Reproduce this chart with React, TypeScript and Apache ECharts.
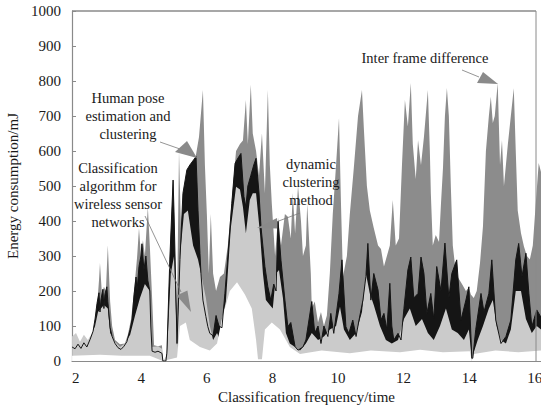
import React, { useEffect, useRef } from "react";
import * as echarts from "echarts";

// Tick labels
const X_TICKS = [2, 4, 6, 8, 10, 12, 14, 16];
const Y_MIN = 0;
const Y_MAX = 1000;
const Y_STEP = 100;

// Inter frame difference (dark gray, back layer)
const INTER_FRAME: [number, number][] = [
  [1.89, 46], [2.01, 60], [2.13, 45], [2.25, 62], [2.37, 50], [2.5, 70], [2.62, 117], [2.71, 230], [2.74, 280],
  [2.8, 190], [2.86, 212], [2.92, 200], [2.98, 331], [3.05, 170], [3.11, 100], [3.2, 60], [3.35, 48], [3.5, 50],
  [3.59, 75], [3.69, 120], [3.78, 200], [3.87, 294], [3.93, 380], [3.99, 300], [4.05, 345], [4.11, 300], [4.2, 440],
  [4.26, 330], [4.33, 180], [4.39, 45], [4.51, 42], [4.63, 45], [4.66, 0], [4.72, 0], [4.78, 25], [4.87, 300],
  [4.97, 520], [5.03, 300], [5.09, 150], [5.15, 600], [5.21, 380], [5.3, 480], [5.42, 550], [5.58, 560], [5.67, 590],
  [5.76, 640], [5.88, 774], [5.94, 560], [6.0, 420], [6.06, 250], [6.12, 420], [6.19, 250], [6.28, 200], [6.4, 240],
  [6.52, 250], [6.64, 330], [6.76, 460], [6.89, 600], [7.01, 620], [7.1, 630], [7.19, 746], [7.25, 620], [7.34, 789],
  [7.4, 650], [7.5, 600], [7.59, 530], [7.68, 651], [7.77, 480], [7.86, 774], [7.92, 560], [7.98, 450], [8.08, 300],
  [8.17, 410], [8.26, 330], [8.38, 420], [8.47, 412], [8.56, 350], [8.62, 480], [8.69, 365], [8.78, 500], [8.87, 400],
  [8.93, 300], [9.02, 330], [9.06, 450], [9.17, 250], [9.2, 150], [9.29, 170], [9.39, 110], [9.48, 140], [9.57, 100],
  [9.66, 130], [9.75, 250], [9.84, 420], [9.94, 560], [10.03, 694], [10.09, 450], [10.15, 240], [10.27, 300],
  [10.36, 420], [10.48, 550], [10.61, 700], [10.73, 774], [10.79, 660], [10.88, 500], [10.97, 430], [11.09, 380],
  [11.22, 330], [11.31, 320], [11.4, 270], [11.49, 300], [11.58, 330], [11.67, 460], [11.76, 330], [11.86, 350],
  [11.95, 560], [12.04, 746], [12.13, 670], [12.22, 794], [12.28, 620], [12.37, 520], [12.44, 631], [12.53, 560],
  [12.62, 640], [12.74, 774], [12.8, 600], [12.83, 480], [12.89, 330], [12.98, 360], [13.08, 340], [13.14, 450],
  [13.2, 550], [13.26, 700], [13.32, 780], [13.38, 700], [13.44, 500], [13.5, 330], [13.56, 280], [13.65, 240],
  [13.78, 220], [13.9, 200], [13.99, 210], [14.05, 190], [14.14, 180], [14.23, 200], [14.33, 280], [14.42, 384],
  [14.51, 600], [14.6, 700], [14.66, 755], [14.72, 680], [14.78, 700], [14.87, 794], [14.94, 560], [15.0, 631],
  [15.06, 500], [15.12, 560], [15.18, 620], [15.27, 700], [15.36, 779], [15.42, 600], [15.48, 430], [15.58, 365],
  [15.67, 327], [15.76, 300], [15.85, 290], [15.94, 330], [16.03, 450], [16.12, 566], [16.19, 540],
];

// Human pose estimation and clustering (black)
const HUMAN_POSE: [number, number][] = [
  [1.89, 40], [1.98, 35], [2.07, 48], [2.16, 36], [2.25, 52], [2.34, 40], [2.44, 62], [2.53, 85], [2.59, 120],
  [2.65, 165], [2.71, 195], [2.74, 140], [2.77, 175], [2.83, 205], [2.86, 150], [2.89, 190], [2.95, 212], [2.98, 170],
  [3.05, 95], [3.11, 70], [3.2, 50], [3.29, 38], [3.38, 33], [3.47, 42], [3.56, 55], [3.66, 90], [3.72, 120],
  [3.78, 190], [3.84, 240], [3.87, 200], [3.93, 270], [3.99, 300], [4.02, 335], [4.08, 260], [4.14, 300], [4.2, 230],
  [4.26, 200], [4.29, 100], [4.33, 28], [4.42, 25], [4.51, 28], [4.63, 22], [4.66, 0], [4.75, 0], [4.78, 22],
  [4.87, 289], [4.97, 517], [5.0, 420], [5.09, 50], [5.18, 290], [5.27, 479], [5.39, 546], [5.48, 560], [5.67, 584],
  [5.73, 431], [5.79, 307], [5.82, 250], [5.88, 174], [5.97, 127], [6.03, 98], [6.09, 79], [6.19, 72], [6.28, 130],
  [6.37, 100], [6.46, 95], [6.55, 193], [6.64, 300], [6.76, 450], [6.86, 565], [6.95, 580], [7.04, 593], [7.13, 470],
  [7.19, 440], [7.25, 500], [7.34, 530], [7.43, 560], [7.5, 579], [7.59, 480], [7.65, 384], [7.77, 270], [7.86, 212],
  [7.95, 174], [8.04, 220], [8.11, 200], [8.17, 400], [8.26, 288], [8.38, 174], [8.47, 98], [8.56, 110], [8.69, 41],
  [8.78, 31], [8.93, 40], [9.02, 60], [9.2, 170], [9.29, 80], [9.39, 100], [9.48, 50], [9.57, 100], [9.69, 70],
  [9.78, 136], [9.87, 79], [10.03, 193], [10.12, 289], [10.24, 98], [10.33, 79], [10.45, 117], [10.55, 70],
  [10.64, 117], [10.76, 174], [10.85, 241], [10.91, 336], [11.0, 174], [11.09, 250], [11.22, 203], [11.31, 117],
  [11.4, 136], [11.49, 90], [11.58, 222], [11.64, 100], [11.7, 60], [11.83, 79], [11.92, 60], [12.01, 150],
  [12.13, 260], [12.22, 297], [12.31, 180], [12.44, 193], [12.53, 297], [12.62, 250], [12.71, 136], [12.83, 193],
  [12.92, 120], [13.01, 270], [13.14, 200], [13.26, 337], [13.38, 180], [13.47, 250], [13.62, 289], [13.75, 117],
  [13.9, 174], [13.99, 212], [14.05, 79], [14.08, 8], [14.11, 8], [14.2, 90], [14.36, 193], [14.45, 140], [14.6, 193],
  [14.69, 289], [14.81, 117], [14.97, 50], [15.12, 70], [15.27, 117], [15.42, 289], [15.51, 336], [15.61, 241],
  [15.73, 308], [15.82, 193], [15.91, 98], [16.06, 146], [16.19, 125],
];

// Classification algorithm for wireless sensor networks (light gray)
const CLASSIFICATION_WSN: [number, number][] = [
  [1.89, 70], [2.01, 80], [2.13, 55], [2.25, 75], [2.37, 60], [2.5, 80], [2.59, 100], [2.68, 140], [2.77, 150],
  [2.86, 160], [2.98, 150], [3.05, 80], [3.2, 55], [3.35, 40], [3.5, 50], [3.66, 75], [3.81, 130], [3.96, 180],
  [4.11, 220], [4.26, 200], [4.33, 40], [4.51, 42], [4.63, 35], [4.66, 0], [4.78, 15], [4.9, 250], [5.0, 300],
  [5.09, 40], [5.18, 300], [5.3, 420], [5.42, 430], [5.58, 330], [5.73, 290], [5.82, 250], [5.97, 180], [6.09, 100],
  [6.19, 60], [6.31, 80], [6.4, 60], [6.46, 120], [6.58, 170], [6.73, 380], [6.89, 498], [7.01, 490], [7.1, 440],
  [7.19, 365], [7.31, 460], [7.4, 479], [7.5, 479], [7.62, 365], [7.71, 250], [7.8, 174], [7.92, 160], [8.01, 150],
  [8.11, 250], [8.2, 260], [8.32, 180], [8.41, 80], [8.53, 50], [8.69, 40], [8.84, 30], [9.02, 50], [9.2, 80],
  [9.39, 60], [9.57, 70], [9.75, 90], [9.94, 100], [10.06, 155], [10.18, 90], [10.36, 60], [10.55, 80], [10.73, 140],
  [10.85, 250], [10.97, 193], [11.09, 160], [11.28, 100], [11.46, 60], [11.64, 50], [11.83, 60], [12.01, 120],
  [12.19, 150], [12.37, 100], [12.56, 120], [12.74, 80], [12.92, 60], [13.11, 100], [13.29, 150], [13.47, 90],
  [13.65, 80], [13.84, 60], [13.99, 90], [14.08, 5], [14.14, 25], [14.26, 60], [14.42, 100], [14.6, 150],
  [14.72, 174], [14.84, 100], [14.97, 60], [15.12, 50], [15.27, 90], [15.42, 200], [15.58, 200], [15.73, 120],
  [15.91, 80], [16.06, 100], [16.19, 90],
];

// Dynamic clustering method (white, front layer)
const DYNAMIC_CLUSTERING: [number, number][] = [
  [1.89, 15], [2.74, 18], [3.4, 15], [4.26, 15], [4.66, 0], [5.09, 10], [5.18, 100], [5.36, 110], [5.48, 60],
  [5.79, 40], [6.09, 30], [6.31, 50], [6.46, 120], [6.7, 200], [6.92, 225], [7.16, 190], [7.37, 150], [7.5, 60],
  [7.56, 5], [7.68, 5], [7.77, 90], [7.98, 110], [8.23, 90], [8.53, 40], [8.84, 20], [9.5, 30], [10.36, 22],
  [11.0, 30], [11.89, 25], [12.5, 32], [13.2, 25], [14.02, 28], [14.08, 0], [14.14, 20], [14.8, 30], [15.5, 25],
  [16.19, 30],
];

const FONT = "Liberation Serif";

function arrow(sx: number, sy: number, ex: number, ey: number, tri: number[][]) {
  return [
    { type: "line", shape: { x1: sx, y1: sy, x2: ex, y2: ey }, style: { stroke: "#7a7a7a", lineWidth: 0.8 }, z: 100 },
    { type: "polygon", shape: { points: tri }, style: { fill: "#8a8a8a" }, z: 100 },
  ];
}

function label(text: string, x: number, y: number) {
  return {
    type: "text",
    x,
    y,
    z: 100,
    style: {
      text,
      align: "center",
      verticalAlign: "middle",
      fontFamily: FONT,
      fontSize: 14.5,
      lineHeight: 18,
      fill: "#1a1a1a",
    },
  };
}

export default function App() {
  const ref = useRef<HTMLDivElement>(null);
  useEffect(() => {
    if (!ref.current) return;
    const chart = echarts.init(ref.current, undefined, { renderer: "svg" });
    const area = (name: string, data: [number, number][], color: string) => ({
      name,
      type: "line",
      data,
      symbol: "none",
      lineStyle: { width: 0, opacity: 0 },
      areaStyle: { color, opacity: 1 },
      silent: true,
    });
    chart.setOption({
      animation: false,
      textStyle: { fontFamily: FONT },
      grid: { left: 72, right: 0, top: 11, bottom: 47, outerBoundsMode: "none" },
      xAxis: {
        type: "value",
        min: 1.887,
        max: 16.19,
        name: "Classification frequency/time",
        nameLocation: "middle",
        nameGap: 27,
        nameTextStyle: { fontFamily: FONT, fontSize: 15, color: "#1a1a1a" },
        axisLine: { lineStyle: { color: "#8a8a8a", width: 1.2 } },
        axisTick: { show: false },
        splitLine: { show: false },
        axisLabel: {
          customValues: X_TICKS,
          fontFamily: FONT,
          fontSize: 15,
          color: "#1a1a1a",
          margin: 9,
        },
      },
      yAxis: {
        type: "value",
        min: Y_MIN,
        max: Y_MAX,
        interval: Y_STEP,
        name: "Energy consumption/mJ",
        nameLocation: "middle",
        nameGap: 41,
        nameTextStyle: { fontFamily: FONT, fontSize: 15, color: "#1a1a1a" },
        axisLine: { show: true, lineStyle: { color: "#8a8a8a", width: 1.2 } },
        axisTick: { show: true, inside: true, length: 4, lineStyle: { color: "#8a8a8a" } },
        splitLine: { show: false },
        axisLabel: {
          fontFamily: FONT,
          fontSize: 15,
          color: "#1a1a1a",
          margin: 11,
          formatter: (v: number) => String(v),
        },
      },
      series: [
        area("Inter frame difference", INTER_FRAME, "#8c8c8c"),
        area("Human pose estimation and clustering", HUMAN_POSE, "#151515"),
        area("Classification algorithm for wireless sensor networks", CLASSIFICATION_WSN, "#cbcbcb"),
        area("dynamic clustering method", DYNAMIC_CLUSTERING, "#ffffff"),
        {
          name: "Human pose outline",
          type: "line",
          data: HUMAN_POSE,
          symbol: "none",
          lineStyle: { width: 1, color: "#151515" },
          silent: true,
        },
      ],
      graphic: [
        { type: "line", shape: { x1: 72, y1: 11, x2: 536, y2: 11 }, style: { stroke: "#8a8a8a", lineWidth: 1.5 }, z: 90 },
        { type: "line", shape: { x1: 536, y1: 11, x2: 536, y2: 361 }, style: { stroke: "#8a8a8a", lineWidth: 1 }, z: 90 },
        label("Human pose\nestimation and\nclustering", 128, 116),
        ...arrow(160, 142, 180, 149, [[175, 152], [187, 141], [197, 158]]),
        label("Classification\nalgorithm for\nwireless sensor\nnetworks", 118, 195),
        ...arrow(145, 216, 181, 292, [[176.6, 295.6], [187.4, 290.4], [191, 312]]),
        label("dynamic\nclustering\nmethod", 311, 182),
        ...arrow(300, 213, 276, 222, [[257, 228], [277, 218], [277, 228.5]]),
        label("Inter frame difference", 425, 58),
        ...arrow(462, 70, 479, 77, [[477, 83], [483, 72], [498, 84]]),
      ],
    });
    return () => chart.dispose();
  }, []);
  return <div ref={ref} style={{ position: "absolute", left: 0, top: 0, width: 541, height: 408 }} />;
}
